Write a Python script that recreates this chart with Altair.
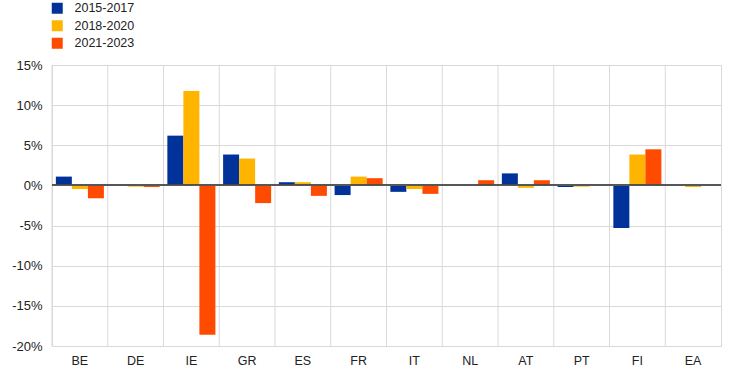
import altair as alt
import pandas as pd

countries = ["BE", "DE", "IE", "GR", "ES", "FR", "IT", "NL", "AT", "PT", "FI", "EA"]
periods = ["2015-2017", "2018-2020", "2021-2023"]
colors = ["#003299", "#FFB400", "#FF4B00"]

v_2015_2017 = [1.1, 0.0, 6.2, 3.85, 0.4, -1.2, -0.8, 0.0, 1.5, -0.2, -5.3, 0.0]
v_2018_2020 = [-0.45, -0.15, 11.75, 3.35, 0.4, 1.1, -0.45, 0.0, -0.3, -0.15, 3.85, -0.2]
v_2021_2023 = [-1.6, -0.2, -18.6, -2.2, -1.3, 0.9, -1.05, 0.65, 0.65, 0.0, 4.5, 0.0]

y_ticks = [-20, -15, -10, -5, 0, 5, 10, 15]

rows = []
for series, vals in zip(periods, [v_2015_2017, v_2018_2020, v_2021_2023]):
    for c, v in zip(countries, vals):
        rows.append({"country": c, "period": series, "value": v})
df = pd.DataFrame(rows)
grid_df = pd.DataFrame({"country": countries})

FONT = "Liberation Sans"

x_scale = alt.Scale(domain=countries, paddingInner=0, paddingOuter=0)
x_axis = alt.Axis(
    labelAngle=0,
    ticks=False,
    domain=False,
    grid=False,
    labelPadding=8,
    labelFontSize=12.5,
    labelFont=FONT,
    labelColor="#222222",
)

grid = alt.Chart(grid_df).mark_rule(color="#d9d9d9", strokeWidth=1).encode(
    x=alt.X("country:N", scale=x_scale, bandPosition=0, axis=x_axis, sort=countries, title=None),
    y=alt.value(0),
    y2=alt.value(281),
)

bars = alt.Chart(df).mark_bar(size=16).encode(
    x=alt.X("country:N", scale=x_scale, sort=countries, title=None, axis=x_axis),
    xOffset=alt.XOffset(
        "period:N",
        sort=periods,
        scale=alt.Scale(domain=periods, paddingInner=0, paddingOuter=0.24),
    ),
    y=alt.Y(
        "value:Q",
        scale=alt.Scale(domain=[-20, 15], nice=False),
        title=None,
        axis=alt.Axis(
            values=y_ticks,
            labelExpr="datum.value + '%'",
            ticks=False,
            domain=False,
            grid=True,
            gridColor="#d9d9d9",
            labelPadding=10,
            labelFontSize=13,
            labelFont=FONT,
            labelColor="#222222",
        ),
    ),
    color=alt.Color(
        "period:N",
        sort=periods,
        scale=alt.Scale(domain=periods, range=colors),
        legend=alt.Legend(
            title=None,
            orient="none",
            legendX=-1,
            legendY=-63,
            symbolType="square",
            symbolSize=121,
            symbolStrokeWidth=0,
            labelFontSize=12.5,
            labelFont=FONT,
            labelColor="#222222",
            labelOffset=11,
            rowPadding=4.5,
        ),
    ),
)

zero = alt.Chart(df).mark_rule(color="#595959", strokeWidth=1).encode(
    y=alt.datum(0),
)

chart = (
    alt.layer(grid, bars, zero)
    .properties(
        width=669,
        height=281,
        autosize=alt.AutoSizeParams(type="none"),
        padding={"left": 52, "top": 65, "right": 23, "bottom": 27},
        background="white",
    )
    .configure_view(stroke="#d9d9d9", strokeWidth=1)
)

chart.save("out.html", embed_options={"renderer": "svg", "actions": False})
